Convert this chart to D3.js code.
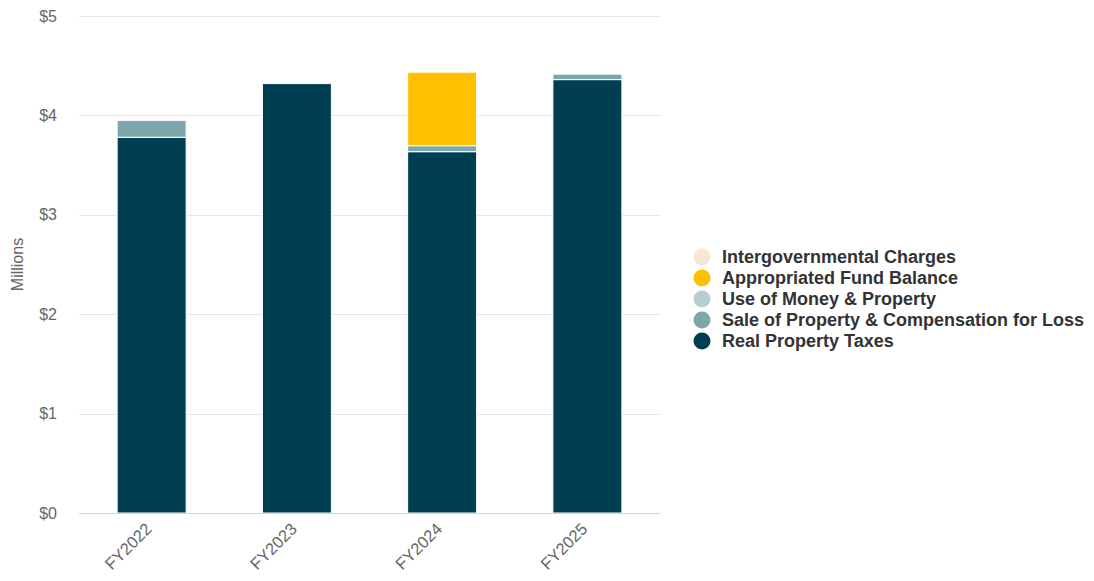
<!DOCTYPE html>
<html>
<head>
<meta charset="utf-8">
<script src="https://cdn.jsdelivr.net/npm/d3@7"></script>
<style>
  body { margin: 0; background: #fff; }
  svg { display: block; font-family: "Liberation Sans", Arial, Helvetica, sans-serif; }
</style>
</head>
<body>
<svg id="chart" width="1094" height="581"></svg>
<script>
// Revenue by source, in millions of dollars
const years = ["FY2022", "FY2023", "FY2024", "FY2025"];
const realPropertyTaxes = [3.78, 4.32, 3.635, 4.36];
const saleOfProperty = [0.17, 0, 0.06, 0.055];
const useOfMoney = [0, 0, 0, 0];
const appropriatedFundBalance = [0, 0, 0.74, 0];
const intergovernmentalCharges = [0, 0, 0, 0];
const yTicks = [0, 1, 2, 3, 4, 5];

// Stack order: bottom to top
const seriesNames = [
  "Real Property Taxes",
  "Sale of Property & Compensation for Loss",
  "Use of Money & Property",
  "Appropriated Fund Balance",
  "Intergovernmental Charges"
];
const seriesValues = [realPropertyTaxes, saleOfProperty, useOfMoney, appropriatedFundBalance, intergovernmentalCharges];
const colors = ["#003f51", "#7ba7ad", "#b5cfd0", "#ffc000", "#f6e6d5"];

const rows = years.map((y, i) => {
  const r = { year: y };
  seriesNames.forEach((s, k) => r[s] = seriesValues[k][i]);
  return r;
});

const svg = d3.select("#chart");
const margin = { left: 79, right: 660, top: 16, bottom: 513 };

const x = d3.scaleBand().domain(years).range([margin.left, margin.right]).paddingInner(0.525).paddingOuter(0.2625);
const y = d3.scaleLinear().domain([0, 5]).range([margin.bottom, margin.top]);

// Gridlines
svg.append("g").selectAll("line").data(yTicks.filter(t => t > 0)).join("line")
  .attr("x1", margin.left).attr("x2", margin.right)
  .attr("y1", d => Math.round(y(d)) + 0.5).attr("y2", d => Math.round(y(d)) + 0.5)
  .attr("stroke", "#e6e6e6").attr("stroke-width", 1);

// Y tick labels
svg.append("g").selectAll("text").data(yTicks).join("text")
  .attr("x", 57).attr("y", d => y(d) + 5.5)
  .attr("text-anchor", "end")
  .attr("fill", "#666666").attr("font-size", 16)
  .text(d => "$" + d);

// Y axis title
svg.append("text")
  .attr("transform", `translate(23,${(margin.top + margin.bottom) / 2}) rotate(-90)`)
  .attr("text-anchor", "middle")
  .attr("fill", "#666666").attr("font-size", 16)
  .text("Millions");

// Stacked bars
const stack = d3.stack().keys(seriesNames);
const stacked = stack(rows);
svg.append("g").selectAll("g").data(stacked).join("g")
  .attr("fill", (d, i) => colors[i])
  .selectAll("rect").data(d => d.filter(p => p[1] - p[0] > 0)).join("rect")
  .attr("x", d => x(d.data.year))
  .attr("width", x.bandwidth())
  .attr("y", d => y(d[1]))
  .attr("height", d => y(d[0]) - y(d[1]))
  .attr("stroke", "#ffffff").attr("stroke-width", 1);

// X axis line
svg.append("line")
  .attr("x1", margin.left).attr("x2", margin.right)
  .attr("y1", margin.bottom + 0.5).attr("y2", margin.bottom + 0.5)
  .attr("stroke", "#ccd6eb").attr("stroke-width", 1);

// X tick labels, rotated
svg.append("g").selectAll("text").data(years).join("text")
  .attr("transform", d => `translate(${x(d) + x.bandwidth() / 2 + 1},${margin.bottom + 17}) rotate(-45)`)
  .attr("text-anchor", "end")
  .attr("fill", "#666666").attr("font-size", 16.5)
  .text(d => d);

// Legend (top entry is the top of the stack)
const legendItems = seriesNames.map((s, i) => ({ name: s, color: colors[i] })).reverse();
const legend = svg.append("g").attr("transform", "translate(702,257)");
const li = legend.selectAll("g").data(legendItems).join("g")
  .attr("transform", (d, i) => `translate(0,${i * 21})`);
li.append("circle").attr("r", 8.5).attr("fill", d => d.color);
li.append("text")
  .attr("x", 20).attr("y", 6)
  .attr("fill", "#333333").attr("font-size", 18).attr("font-weight", "bold")
  .text(d => d.name);
</script>
</body>
</html>
